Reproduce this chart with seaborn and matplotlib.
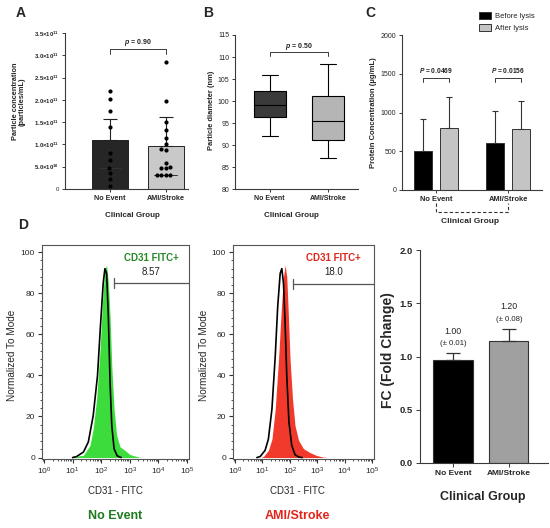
import numpy as np
import pandas as pd
import matplotlib
matplotlib.use("Agg")
import matplotlib.pyplot as plt
import matplotlib.transforms as mtrans
from matplotlib.ticker import AutoMinorLocator, LogLocator, NullFormatter
import seaborn as sns

# ---------------- DATA ----------------
groups = ["No Event", "AMI/Stroke"]

# Panel A: particle concentration (bar = mean, upper SD), dots in units of 1e11
conc_mean = [1.11e11, 0.97e11]
conc_sd = [0.47e11, 0.65e11]
conc_dots_noevent = [2.20, 2.01, 1.76, 1.38, 0.80, 0.64, 0.46, 0.37, 0.22, 0.07]
conc_dots_ami = [2.85, 1.98, 1.51, 1.32, 1.15, 1.00, 0.89, 0.87, 0.58, 0.50,
                 0.48, 0.46, 0.31, 0.31, 0.31, 0.31]
conc_hline = [0.46e11, 0.31e11]
conc_ticks = [0, 0.5e11, 1.0e11, 1.5e11, 2.0e11, 2.5e11, 3.0e11, 3.5e11]
conc_ticklabels = ["0", r"$\mathbf{5.0{\times}10^{10}}$", r"$\mathbf{1.0{\times}10^{11}}$",
                   r"$\mathbf{1.5{\times}10^{11}}$", r"$\mathbf{2.0{\times}10^{11}}$",
                   r"$\mathbf{2.5{\times}10^{11}}$", r"$\mathbf{3.0{\times}10^{11}}$",
                   r"$\mathbf{3.5{\times}10^{11}}$"]
p_A = "0.90"

# Panel B: particle diameter five-number summaries (min, Q1, median, Q3, max)
diam_noevent = [92.0, 96.4, 99.1, 102.2, 106.0]
diam_ami = [87.0, 91.2, 95.5, 101.2, 108.5]
p_B = "0.50"

# Panel C: protein concentration
conditions = ["Before lysis", "After lysis"]
prot_before = [500, 610]
prot_before_sd = [410, 405]
prot_after = [795, 785]
prot_after_sd = [405, 365]
p_C = ["0.0469", "0.0156"]

# Panel D: flow histograms (log10 CD31-FITC, % of mode)
h1_fill_x = [1.02, 1.38, 1.61, 1.72, 1.84, 1.96, 2.05, 2.13, 2.19, 2.25, 2.31, 2.37,
             2.45, 2.54, 2.66, 2.83, 3.00, 3.24, 3.40]
h1_fill_y = [0.5, 1.1, 6.0, 14.0, 28.5, 52.6, 76.8, 92.0, 93.5, 85.0, 68.7, 44.6,
             23.7, 10.8, 5.2, 3.5, 1.5, 0.5, 0.0]
h1_ctrl_x = [1.00, 1.14, 1.38, 1.55, 1.72, 1.87, 1.98, 2.07, 2.13, 2.19, 2.25, 2.31,
             2.37, 2.45, 2.56, 2.70]
h1_ctrl_y = [0.0, 0.5, 2.7, 7.6, 20.4, 39.8, 65.5, 84.9, 92.0, 89.7, 68.7, 36.5,
             15.6, 4.3, 0.8, 0.0]
h2_fill_x = [0.95, 1.04, 1.22, 1.35, 1.47, 1.59, 1.69, 1.77, 1.83, 1.89, 1.95, 2.01,
             2.10, 2.19, 2.32, 2.50, 2.74, 2.98, 3.22, 3.40]
h2_fill_y = [0.0, 0.5, 3.5, 9.0, 23.7, 47.8, 72.0, 88.0, 93.7, 88.0, 68.7, 47.8,
             28.5, 15.6, 8.4, 4.3, 2.4, 1.0, 0.2, 0.0]
h2_ctrl_x = [0.80, 0.92, 1.10, 1.22, 1.35, 1.47, 1.56, 1.65, 1.71, 1.77, 1.83, 1.89,
             1.97, 2.07, 2.19, 2.32, 2.45]
h2_ctrl_y = [0.0, 0.5, 3.5, 9.0, 23.7, 49.4, 73.6, 89.7, 92.0, 84.9, 65.5, 39.8,
             17.2, 6.0, 1.4, 0.3, 0.0]
gate_log = [2.44, 2.10]
gate_y = [84.9, 84.4]
gate_pct = ["8.57", "18.0"]
hist_xticks = [1e0, 1e1, 1e2, 1e3, 1e4, 1e5]
hist_xticklabels = [r"$10^{0}$", r"$10^{1}$", r"$10^{2}$", r"$10^{3}$", r"$10^{4}$", r"$10^{5}$"]

# Fold change panel
fc_mean = [0.97, 1.15]
fc_err = [0.06, 0.11]
fc_label = ["1.00", "1.20"]
fc_pm = ["(\u00b1 0.01)", "(\u00b1 0.08)"]

# ---------------- STYLE ----------------
sns.set_theme(style="ticks")
plt.rcParams["font.family"] = ["Liberation Sans", "DejaVu Sans"]
plt.rcParams["mathtext.fontset"] = "custom"
plt.rcParams["mathtext.rm"] = "Liberation Sans"
plt.rcParams["mathtext.bf"] = "Liberation Sans:bold"
plt.rcParams["mathtext.it"] = "Liberation Sans:bold:italic"

AX = "#3a3a3a"
W, H = 550, 528
fig = plt.figure(figsize=(W / 100, H / 100), dpi=100)
fig.patch.set_facecolor("white")


def px_axes(x0, y0, x1, y1):
    return fig.add_axes([x0 / W, 1 - y1 / H, (x1 - x0) / W, (y1 - y0) / H])


def prism(ax, lsize=5):
    sns.despine(ax=ax)
    for sp in ["left", "bottom"]:
        ax.spines[sp].set_color(AX)
        ax.spines[sp].set_linewidth(0.8)
    ax.tick_params(length=2.5, width=0.7, color=AX, pad=1.5, labelsize=lsize)
    ax.set_facecolor("white")


def bracket(ax, x0, x1, y, drop, text, ty, fs=5):
    ax.plot([x0, x0, x1, x1], [y - drop, y, y, y - drop], color=AX, lw=0.7, clip_on=False)
    ax.text((x0 + x1) / 2, ty, text, ha="center", va="center", fontsize=fs,
            fontweight="bold", color="#222", zorder=10,
            bbox=dict(fc="white", ec="none", pad=0.2))


# ---------------- PANEL A ----------------
axA = px_axes(65, 33, 188, 189)
sns.barplot(x=groups, y=conc_mean, hue=groups, palette=["#262626", "#c9c9c9"],
            width=0.64, edgecolor="#222", linewidth=0.7, legend=False, ax=axA)
axA.errorbar([0, 1], conc_mean, yerr=[[0, 0], conc_sd], fmt="none", ecolor="#222",
             elinewidth=0.8, capsize=5, capthick=0.8, zorder=3)
dfA = pd.DataFrame({
    "group": [groups[0]] * len(conc_dots_noevent) + [groups[1]] * len(conc_dots_ami),
    "val": [v * 1e11 for v in conc_dots_noevent + conc_dots_ami]})
sns.swarmplot(data=dfA, x="group", y="val", order=groups, color="black", size=3, ax=axA, zorder=4)
for i, v in enumerate(conc_hline):
    axA.plot([i - 0.2, i + 0.2], [v, v], color="#333", lw=0.7, zorder=3)
axA.set_ylim(0, 3.5e11)
axA.set_xlim(-0.8, 1.4)
axA.set_yticks(conc_ticks)
axA.set_yticklabels(conc_ticklabels)
prism(axA, 4.3)
for t in axA.get_xticklabels():
    t.set_fontweight("bold")
    t.set_fontsize(5.2)
axA.set_ylabel("Particle concentration\n(particles/mL)", fontsize=5.3, fontweight="bold",
               linespacing=1.1)
axA.yaxis.set_label_coords(-0.375, 0.56)
axA.yaxis.label.set_va("center")
axA.set_xlabel("Clinical Group", fontsize=5.8, fontweight="bold")
axA.xaxis.set_label_coords(0.55, -0.173)
axA.xaxis.label.set_va("center")
bracket(axA, 0, 1, 3.13e11, 0.09e11, r"$\mathit{p}$ = " + p_A, 3.28e11)

# ---------------- PANEL B ----------------
axB = px_axes(235, 35, 358, 189)
dfB = pd.DataFrame({"group": [groups[0]] * 5 + [groups[1]] * 5,
                    "diam": diam_noevent + diam_ami})
sns.boxplot(data=dfB, x="group", y="diam", hue="group", order=groups,
            palette=["#3a3a3a", "#b5b5b5"], width=0.55, whis=(0, 100),
            linecolor="black", linewidth=0.8, legend=False, ax=axB)
axB.set_ylim(80, 115)
axB.set_xlim(-0.6, 1.52)
axB.set_yticks(range(80, 116, 5))
prism(axB, 5)
for t in axB.get_xticklabels():
    t.set_fontweight("bold")
axB.set_ylabel("Particle diameter (nm)", fontsize=5.4, fontweight="bold")
axB.yaxis.set_label_coords(-0.187, 0.51)
axB.yaxis.label.set_va("center")
axB.set_xlabel("Clinical Group", fontsize=5.8, fontweight="bold")
axB.xaxis.set_label_coords(0.46, -0.175)
axB.xaxis.label.set_va("center")
bracket(axB, 0, 1, 111.2, 1.0, r"$\mathit{p}$ = " + p_B, 112.4)

# ---------------- PANEL C ----------------
axC = px_axes(402, 35, 542, 190)
dfC = pd.DataFrame({
    "group": groups + groups,
    "cond": [conditions[0]] * 2 + [conditions[1]] * 2,
    "val": prot_before + prot_after})
sns.barplot(data=dfC, x="group", y="val", hue="cond", order=groups, hue_order=conditions,
            palette=["black", "#c4c4c4"], width=0.72, gap=0.3, edgecolor="#333",
            linewidth=0.7, errorbar=None, ax=axC)
sds = {(groups[i], conditions[0]): prot_before_sd[i] for i in range(2)}
sds.update({(groups[i], conditions[1]): prot_after_sd[i] for i in range(2)})
bars = sorted([p for p in axC.patches if p.get_height() > 0], key=lambda p: p.get_x())
order_keys = [(groups[0], conditions[0]), (groups[0], conditions[1]),
              (groups[1], conditions[0]), (groups[1], conditions[1])]
centers = []
for p, k in zip(bars, order_keys):
    cx = p.get_x() + p.get_width() / 2
    centers.append(cx)
    axC.errorbar([cx], [p.get_height()], yerr=[[0], [sds[k]]], fmt="none", ecolor="#333",
                 elinewidth=0.8, capsize=2.2, capthick=0.8)
axC.set_ylim(0, 2000)
axC.set_xlim(-0.47, 1.47)
axC.set_yticks(range(0, 2001, 500))
prism(axC, 5)
for t in axC.get_xticklabels():
    t.set_fontweight("bold")
    t.set_fontsize(5.4)
axC.set_ylabel("Protein Concentration (\u00b5g/mL)", fontsize=5.5, fontweight="bold")
axC.yaxis.set_label_coords(-0.207, 0.50)
axC.yaxis.label.set_va("center")
axC.set_xlabel("Clinical Group", fontsize=6, fontweight="bold")
axC.xaxis.set_label_coords(0.486, -0.206)
axC.xaxis.label.set_va("center")
for g in range(2):
    bracket(axC, centers[2 * g], centers[2 * g + 1], 1441, 45,
            r"$\mathit{P}$ = " + p_C[g], 1545, fs=4.8)
trC = mtrans.blended_transform_factory(axC.transData, axC.transAxes)
axC.plot([0, 0, 1, 1], [-0.084, -0.142, -0.142, -0.084], transform=trC,
         ls=(0, (3, 2)), color="#333", lw=0.8, clip_on=False)
sns.move_legend(axC, "upper left", bbox_to_anchor=(476 / W, 1 - 9 / H),
                bbox_transform=fig.transFigure, frameon=False, title=None,
                fontsize=5.5, handlelength=1.5, handleheight=1.0, labelspacing=0.55,
                handletextpad=0.6, borderaxespad=0)

# ---------------- PANEL D: histograms ----------------
hist_specs = [
    (px_axes(42, 245, 189, 459), h1_fill_x, h1_fill_y, h1_ctrl_x, h1_ctrl_y,
     "#3ddc3d", "#258a25", "#1e7a1e", groups[0], 0.5),
    (px_axes(233, 245, 374, 459), h2_fill_x, h2_fill_y, h2_ctrl_x, h2_ctrl_y,
     "#f23a2c", "#e0261c", "#e0261c", groups[1], 0.46),
]
xmin, xmax = 10 ** -0.07, 10 ** 5.07
for i, (ax, fx, fy, cx_, cy_, fcol, tcol, ncol, gname, gx) in enumerate(hist_specs):
    ax.set_xscale("log")
    ax.fill_between([10 ** v for v in fx], fy, 0, color=fcol, lw=0, zorder=2)
    sns.lineplot(x=[10 ** v for v in cx_], y=cy_, color="black", lw=1.2,
                 estimator=None, ax=ax, zorder=3)
    gx0 = 10 ** gate_log[i]
    ax.plot([gx0, gx0], [gate_y[i] - 2.4, gate_y[i] + 2.4], color="#555", lw=0.9, zorder=4)
    ax.plot([gx0, xmax], [gate_y[i], gate_y[i]], color="#555", lw=0.9, zorder=4)
    mid = np.sqrt(gx0 * xmax)
    ax.text(mid, 97, "CD31 FITC+", color=tcol, ha="center", va="center", fontsize=7,
            fontweight="bold")
    ax.text(mid, 90.5, gate_pct[i], color="#222", ha="center", va="center", fontsize=7)
    ax.set_xlim(xmin, xmax)
    ax.set_ylim(-0.7, 103.5)
    ax.set_xticks(hist_xticks)
    ax.set_xticklabels(hist_xticklabels)
    ax.xaxis.set_minor_locator(LogLocator(base=10, subs=np.arange(2, 10), numticks=20))
    ax.xaxis.set_minor_formatter(NullFormatter())
    ax.set_yticks(range(0, 101, 20))
    ax.yaxis.set_minor_locator(AutoMinorLocator(5))
    ax.tick_params(which="major", direction="out", length=3, width=0.8, color="#333",
                   labelsize=6, pad=2)
    ax.tick_params(which="minor", direction="out", length=1.5, width=0.6, color="#333")
    for sp in ax.spines.values():
        sp.set_color("#555")
        sp.set_linewidth(0.8)
    ax.set_facecolor("white")
    ax.set_ylabel("Normalized To Mode", fontsize=7.2)
    ax.yaxis.set_label_coords(-0.204, 0.486)
    ax.yaxis.label.set_va("center")
    ax.set_xlabel("CD31 - FITC", fontsize=7)
    ax.xaxis.set_label_coords(gx, -0.15)
    ax.xaxis.label.set_va("center")
    ax.text(gx, -0.266, gname, transform=ax.transAxes, color=ncol, ha="center",
            va="center", fontsize=9, fontweight="bold")

# ---------------- FOLD CHANGE ----------------
axF = px_axes(420, 250, 548, 463)
sns.barplot(x=groups, y=fc_mean, hue=groups, palette=["black", "#a0a0a0"], width=0.7,
            edgecolor="#333", linewidth=0.8, legend=False, ax=axF)
axF.errorbar([0, 1], fc_mean, yerr=[[0, 0], fc_err], fmt="none", ecolor="#333",
             elinewidth=0.9, capsize=5, capthick=0.9)
for i in range(2):
    top = fc_mean[i] + fc_err[i]
    axF.text(i, top + 0.205, fc_label[i], ha="center", va="center", fontsize=6.3, color="#222")
    axF.text(i, top + 0.09, fc_pm[i], ha="center", va="center", fontsize=5.6, color="#222")
axF.set_ylim(0, 2.0)
axF.set_xlim(-0.59, 1.7)
axF.set_yticks([0.0, 0.5, 1.0, 1.5, 2.0])
axF.set_yticklabels(["0.0", "0.5", "1.0", "1.5", "2.0"])
prism(axF, 6.8)
axF.tick_params(length=3, pad=2)
for t in axF.get_yticklabels():
    t.set_fontweight("bold")
for t in axF.get_xticklabels():
    t.set_fontweight("bold")
    t.set_fontsize(6)
axF.set_ylabel("FC (Fold Change)", fontsize=10, fontweight="bold")
axF.yaxis.set_label_coords(-0.25, 0.53)
axF.yaxis.label.set_va("center")
axF.set_xlabel("Clinical Group", fontsize=9, fontweight="bold")
axF.xaxis.set_label_coords(0.49, -0.16)
axF.xaxis.label.set_va("center")

# ---------------- panel letters ----------------
for lab, x, y in [("A", 21, 13), ("B", 208, 13), ("C", 370, 13), ("D", 23, 225)]:
    fig.text(x / W, 1 - y / H, lab, fontsize=10, fontweight="bold", ha="center", va="center")

fig.savefig("out.png", dpi=100, facecolor="white")
